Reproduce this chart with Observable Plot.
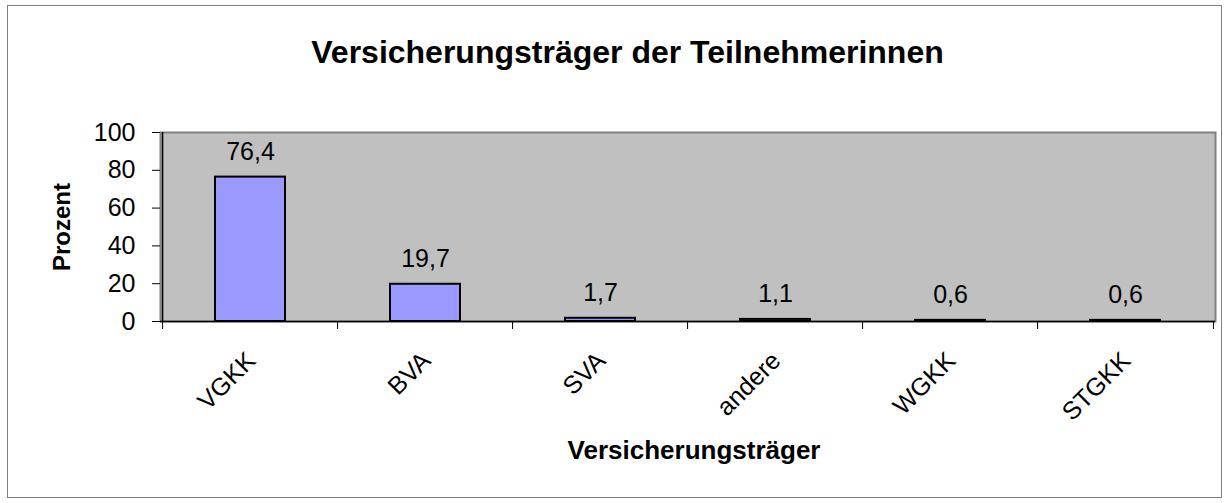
<!DOCTYPE html>
<html><head><meta charset="utf-8">
<script src="https://cdn.jsdelivr.net/npm/d3@7"></script>
<script src="https://cdn.jsdelivr.net/npm/@observablehq/plot@0.6"></script>
<style>
body{margin:0;background:#fff;font-family:"Liberation Sans",Arial,sans-serif;}
#wrap{position:relative;width:1230px;height:503px;overflow:hidden;}
#frame{position:absolute;left:7px;top:5px;width:1215px;height:493px;border:1px solid #808080;box-sizing:border-box;pointer-events:none;}
#title{height:54px;padding-top:36px;padding-left:25px;line-height:32px;font-size:32px;font-weight:bold;text-align:center;color:#000;}
</style>
</head><body>
<div id="wrap"><div id="title">Versicherungsträger der Teilnehmerinnen</div><div id="chart"></div><div id="frame"></div></div>
<script>
const categories = ["VGKK", "BVA", "SVA", "andere", "WGKK", "STGKK"];
const values = [76.4, 19.7, 1.7, 1.1, 0.6, 0.6];
const yTicks = [0, 20, 40, 60, 80, 100];
const yLabel = "Prozent";
const xLabel = "Versicherungsträger";

const data = categories.map((name, i) => ({name, value: values[i]}));
const fmt = v => v.toFixed(1).replace(".", ",");

const W = 1230, H = 413, mL = 160, mR = 15, mT = 42, mB = 182;
const pIn = 0.6, pOut = 0.3;
const step = (W - mL - mR) / (categories.length - pIn + 2 * pOut);
const font = "Liberation Sans, Arial, sans-serif";

const chart = Plot.plot({
  width: W, height: H,
  marginLeft: mL, marginRight: mR, marginTop: mT, marginBottom: mB,
  style: {fontFamily: font, background: "transparent", color: "#000"},
  x: {type: "band", domain: categories, paddingInner: pIn, paddingOuter: pOut, axis: null},
  y: {domain: [0, 100], axis: null},
  marks: [
    Plot.frame({fill: "#c0c0c0", stroke: "#808080", strokeWidth: 2}),
    Plot.barY(data, {x: "name", y: "value", fill: "#9999ff", stroke: "#000", strokeWidth: 2}),
    Plot.text(data, {x: "name", y: "value", text: d => fmt(d.value), dy: -17, lineAnchor: "bottom", fontSize: 25, fill: "#000"}),
    Plot.ruleY([0], {stroke: "#000", strokeWidth: 1.5}),
    Plot.ruleX([categories[0]], {x: d => d, y1: 0, y2: 100, dx: -step / 2, stroke: "#000", strokeWidth: 1.5}),
    Plot.ruleX(categories, {x: d => d, y1: 0, y2: 0, dx: -step / 2, insetBottom: -8, stroke: "#000"}),
    Plot.ruleX([categories[categories.length - 1]], {x: d => d, y1: 0, y2: 0, dx: step / 2, insetBottom: -8, stroke: "#000"}),
    Plot.axisY({ticks: yTicks, tickSize: 8, tickPadding: 17, fontSize: 25, label: null, tickFormat: d => String(d)}),
    Plot.axisX({tickSize: 0, tickRotate: -45, tickPadding: 35, dx: 1, fontSize: 25, label: null}),
    Plot.text([yLabel], {frameAnchor: "left", textAnchor: "middle", rotate: -90, dx: -98, fontWeight: "bold", fontSize: 24, fill: "#000"}),
    Plot.text([xLabel], {frameAnchor: "bottom", lineAnchor: "middle", dy: 129, dx: 6, fontWeight: "bold", fontSize: 26, fill: "#000"})
  ]
});
document.getElementById("chart").appendChild(chart);
</script>
</body></html>
